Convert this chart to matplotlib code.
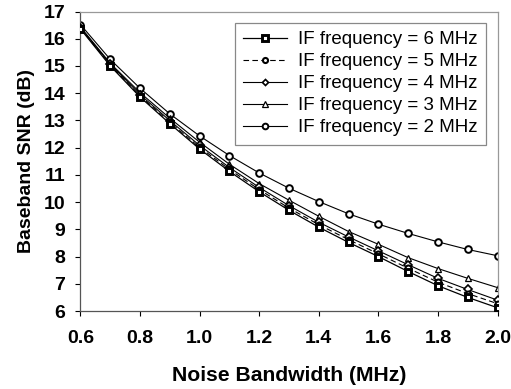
import matplotlib
matplotlib.use("Agg")
import matplotlib.pyplot as plt

plt.rcParams['font.family'] = ['Liberation Sans', 'DejaVu Sans']

bandwidth = [0.6, 0.7, 0.8, 0.9, 1.0, 1.1, 1.2, 1.3, 1.4, 1.5, 1.6, 1.7, 1.8, 1.9, 2.0]
snr_6mhz = [16.36, 15.00, 13.86, 12.88, 11.95, 11.13, 10.38, 9.70, 9.08, 8.52, 8.00, 7.45, 6.93, 6.50, 6.12]
snr_5mhz = [16.38, 15.03, 13.90, 12.93, 12.01, 11.20, 10.46, 9.78, 9.17, 8.62, 8.10, 7.57, 7.06, 6.64, 6.27]
snr_4mhz = [16.40, 15.07, 13.95, 12.99, 12.08, 11.27, 10.54, 9.87, 9.26, 8.72, 8.21, 7.70, 7.20, 6.79, 6.40]
snr_3mhz = [16.43, 15.10, 14.02, 13.08, 12.20, 11.39, 10.68, 10.07, 9.48, 8.92, 8.45, 7.96, 7.56, 7.20, 6.86]
snr_2mhz = [16.52, 15.24, 14.18, 13.24, 12.43, 11.71, 11.07, 10.51, 10.02, 9.57, 9.19, 8.85, 8.54, 8.26, 8.03]
labels = ["IF frequency = 6 MHz", "IF frequency = 5 MHz", "IF frequency = 4 MHz",
          "IF frequency = 3 MHz", "IF frequency = 2 MHz"]
x_ticks = [0.6, 0.8, 1.0, 1.2, 1.4, 1.6, 1.8, 2.0]
y_ticks = list(range(6, 18))

fig = plt.figure(figsize=(5.11, 3.89), dpi=100)
ax = fig.add_axes([0.1575, 0.2005, 0.8161, 0.7699])

ax.plot(bandwidth, snr_6mhz, color='black', lw=0.9, marker='s', ms=4.3,
        mfc='white', mec='black', mew=2.1, label=labels[0], zorder=5)
ax.plot(bandwidth, snr_5mhz, color='black', lw=0.8, ls=(0, (5, 3)), marker='o', ms=4.3,
        mfc='white', mec='black', mew=1.5, label=labels[1], zorder=4)
ax.plot(bandwidth, snr_4mhz, color='black', lw=0.8, marker='D', ms=3.6,
        mfc='white', mec='black', mew=1.2, label=labels[2], zorder=3)
ax.plot(bandwidth, snr_3mhz, color='black', lw=0.8, marker='^', ms=4.5,
        mfc='white', mec='black', mew=0.9, label=labels[3], zorder=2)
ax.plot(bandwidth, snr_2mhz, color='black', lw=0.8, marker='o', ms=4.8,
        mfc='white', mec='black', mew=1.4, label=labels[4], zorder=1)

ax.set_xlim(0.6, 2.0)
ax.set_ylim(6, 17)
ax.set_xticks(x_ticks)
ax.set_xticklabels([f"{v:.1f}" for v in x_ticks])
ax.set_yticks(y_ticks)
for lab in ax.get_xticklabels() + ax.get_yticklabels():
    lab.set_fontweight('bold')
ax.tick_params(axis='both', labelsize=14, direction='out', length=3.4, width=0.8, color='black')
ax.tick_params(axis='x', pad=10)
ax.tick_params(axis='y', pad=7.5)

ax.set_xlabel("Noise Bandwidth (MHz)", fontsize=15.2, fontweight='bold', labelpad=14)
ax.set_ylabel("Baseband SNR (dB)", fontsize=14, fontweight='bold', labelpad=6)

ax.spines['left'].set_color('#555555')
ax.spines['bottom'].set_color('#555555')
ax.spines['top'].set_color('#999999')
ax.spines['right'].set_color('#999999')
for s in ax.spines.values():
    s.set_linewidth(0.9)

leg = ax.legend(loc='upper right', bbox_to_anchor=(0.9717, 0.9626), fontsize=13.5,
                frameon=True, fancybox=False, framealpha=1, edgecolor='#888888',
                handlelength=2.3, handletextpad=0.6, labelspacing=0.26,
                borderpad=0.45, borderaxespad=0.0, markerscale=0.85)
leg.get_frame().set_linewidth(0.9)

fig.savefig("out.png", dpi=100)
